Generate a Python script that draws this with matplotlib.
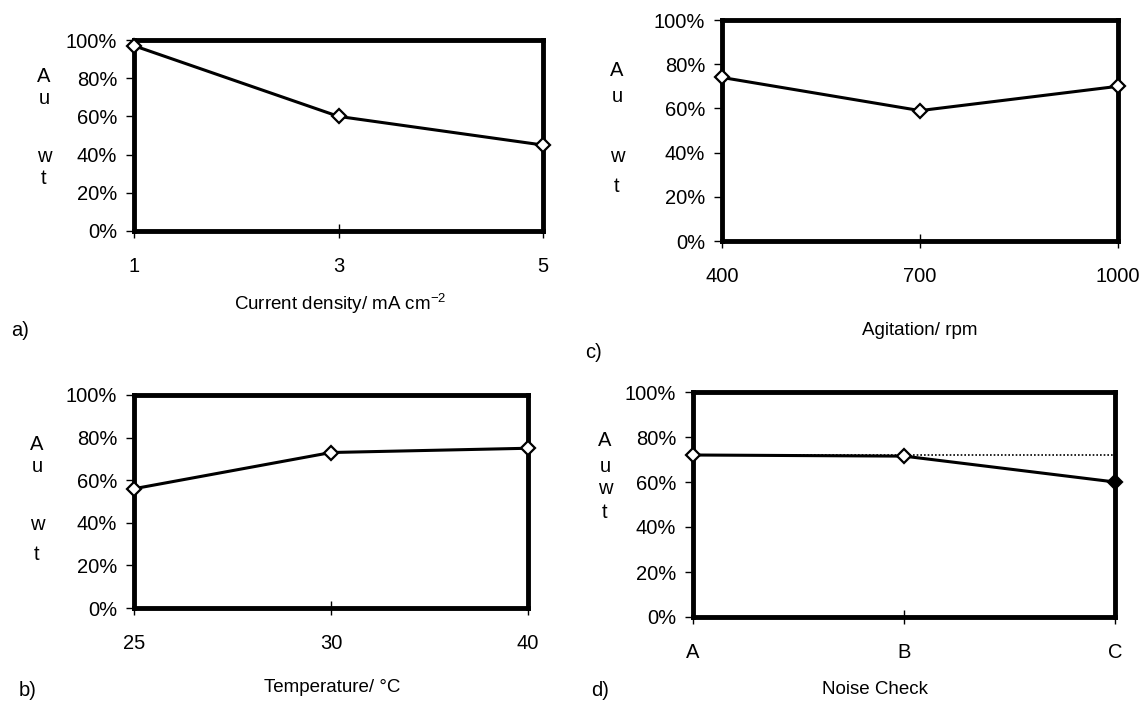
import numpy as np
import matplotlib
matplotlib.use("Agg")
import matplotlib.pyplot as plt

plt.rcParams['font.family'] = ['Liberation Sans', 'DejaVu Sans']
plt.rcParams['mathtext.fontset'] = 'custom'
plt.rcParams['mathtext.rm'] = 'Liberation Sans'
plt.rcParams['mathtext.default'] = 'regular'

# données (% Au en masse)
cd_labels = ['1', '3', '5']
cd_values = [97, 60, 45]

temp_labels = ['25', '30', '40']
temp_values = [56, 73, 75]

agit_labels = ['400', '700', '1000']
agit_values = [74, 59, 70]

noise_labels = ['A', 'B', 'C']
noise_values = [72, 71.5, 60]
noise_ref = 72

W, H = 1146, 708
fig = plt.figure(figsize=(W / 100, H / 100), dpi=100)
fig.patch.set_facecolor('white')


def px_axes(l, r, t, b):
    return fig.add_axes([l / W, 1 - b / H, (r - l) / W, (b - t) / H])


def style(ax, labels):
    ax.set_xlim(0, len(labels) - 1)
    ax.set_ylim(0, 100)
    ax.set_xticks(range(len(labels)))
    ax.set_xticklabels(labels, fontsize=14.5)
    ax.set_yticks(np.arange(0, 101, 20))
    ax.set_yticklabels([f'{v}%' for v in range(0, 101, 20)], fontsize=14.5)
    for s in ax.spines.values():
        s.set_linewidth(3.5)
    ax.tick_params(axis='y', direction='out', length=6, width=1, pad=6)
    ax.tick_params(axis='x', direction='inout', length=10, width=1, pad=14)


def ylab(x, ys):
    for letter, y in zip('Auwt', ys):
        fig.text(x / W, 1 - y / H, letter, fontsize=14.5, ha='center', va='center')


def draw(ax, values, fills=None):
    x = np.arange(len(values))
    ax.plot(x, values, color='black', lw=2.2, clip_on=False, zorder=3)
    if fills is None:
        fills = ['white'] * len(values)
    for xi, v, fc in zip(x, values, fills):
        ax.plot(xi, v, marker='D', ms=7.5, mfc=fc, mec='black', mew=1.6,
                clip_on=False, zorder=4)


# a) densité de courant
ax = px_axes(134, 543, 40, 231)
draw(ax, cd_values)
style(ax, cd_labels)
ylab(44, [76, 98, 156, 178])
fig.text(340 / W, 1 - 304 / H, 'Current density/ mA cm$^{-2}$', fontsize=13.5,
         ha='center', va='center')
fig.text(20 / W, 1 - 331 / H, 'a)', fontsize=14.5, ha='center', va='center')

# c) agitation
ax = px_axes(722, 1118, 20, 241)
draw(ax, agit_values)
style(ax, agit_labels)
ylab(617, [70, 97, 157, 187])
fig.text(920 / W, 1 - 331 / H, 'Agitation/ rpm', fontsize=13.5,
         ha='center', va='center')
fig.text(593 / W, 1 - 352 / H, 'c)', fontsize=14.5, ha='center', va='center')

# b) température
ax = px_axes(134, 528, 395, 608)
draw(ax, temp_values)
style(ax, temp_labels)
ylab(37, [444, 467, 524, 554])
fig.text(332 / W, 1 - 688 / H, 'Temperature/ °C', fontsize=13.5,
         ha='center', va='center')
fig.text(28 / W, 1 - 690 / H, 'b)', fontsize=14.5, ha='center', va='center')

# d) vérification du bruit
ax = px_axes(693, 1115, 392, 617)
ax.plot([0, len(noise_labels) - 1], [noise_ref, noise_ref], color='black',
        lw=1.2, ls=(0, (1, 1.2)), zorder=2)
draw(ax, noise_values, fills=['white', 'white', 'black'])
style(ax, noise_labels)
ylab(605, [440, 467, 488, 512])
fig.text(875 / W, 1 - 690 / H, 'Noise Check', fontsize=13.5,
         ha='center', va='center')
fig.text(600 / W, 1 - 690 / H, 'd)', fontsize=14.5, ha='center', va='center')

fig.savefig('out.png', dpi=100)
